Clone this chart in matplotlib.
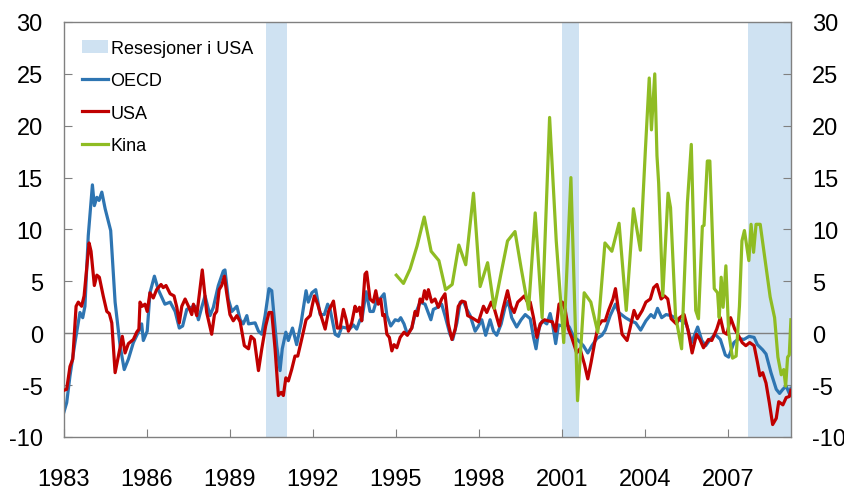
import numpy as np
import matplotlib
matplotlib.use("Agg")
import matplotlib.pyplot as plt
from matplotlib.patches import Patch
from matplotlib.lines import Line2D

plt.rcParams['font.family'] = ['Liberation Sans', 'DejaVu Sans']
plt.rcParams['axes.unicode_minus'] = False

# OECD (decimal year, value)
oecd_t = [1983.01, 1983.11, 1983.23, 1983.41, 1983.59, 1983.69, 1983.77, 1983.89, 1984.04, 1984.11,
          1984.20, 1984.28, 1984.38, 1984.50, 1984.70, 1984.86, 1985.04, 1985.19, 1985.34, 1985.52,
          1985.70, 1985.82, 1985.88, 1986.02, 1986.12, 1986.28, 1986.42, 1986.66, 1986.85, 1987.03,
          1987.18, 1987.30, 1987.45, 1987.69, 1987.75, 1987.87, 1987.99, 1988.11, 1988.29, 1988.41,
          1988.59, 1988.77, 1988.83, 1988.95, 1989.08, 1989.26, 1989.38, 1989.49, 1989.62, 1989.68,
          1989.92, 1990.04, 1990.16, 1990.28, 1990.42, 1990.52, 1990.70, 1990.82, 1990.90, 1991.03,
          1991.12, 1991.27, 1991.42, 1991.58, 1991.76, 1991.84, 1991.97, 1992.11, 1992.27, 1992.42,
          1992.54, 1992.63, 1992.81, 1992.93, 1993.05, 1993.23, 1993.33, 1993.47, 1993.59, 1993.71,
          1993.77, 1993.93, 1994.07, 1994.19, 1994.32, 1994.43, 1994.58, 1994.68, 1994.82, 1994.98,
          1995.10, 1995.18, 1995.30, 1995.42, 1995.58, 1995.70, 1995.88, 1996.06, 1996.27, 1996.36,
          1996.51, 1996.66, 1996.78, 1996.96, 1997.06, 1997.21, 1997.33, 1997.45, 1997.57, 1997.69,
          1997.87, 1997.99, 1998.11, 1998.25, 1998.41, 1998.53, 1998.65, 1998.81, 1998.95, 1999.07,
          1999.19, 1999.37, 1999.53, 1999.68, 1999.86, 1999.98, 2000.07, 2000.18, 2000.30, 2000.46,
          2000.58, 2000.66, 2000.78, 2000.88, 2001.02, 2001.15, 2001.27, 2001.42, 2001.60, 2001.78,
          2001.94, 2002.09, 2002.27, 2002.45, 2002.57, 2002.75, 2002.94, 2003.06, 2003.30, 2003.49,
          2003.67, 2003.85, 2004.04, 2004.22, 2004.34, 2004.46, 2004.61, 2004.77, 2004.95, 2005.14,
          2005.32, 2005.50, 2005.69, 2005.91, 2006.06, 2006.20, 2006.36, 2006.54, 2006.73, 2006.91,
          2007.03, 2007.22, 2007.40, 2007.58, 2007.77, 2007.95, 2008.07, 2008.26, 2008.38, 2008.56,
          2008.75, 2008.87, 2008.99, 2009.11, 2009.22, 2009.28]
oecd_v = [-7.6, -6.7, -4.1, -0.9, 2.0, 1.5, 2.6, 9.4, 14.3, 12.3,
          13.1, 12.8, 13.6, 12.0, 9.9, 3.0, -1.2, -3.5, -2.5, -0.9,
          0.1, 0.9, -0.7, 0.2, 3.9, 5.5, 4.2, 2.8, 3.0, 2.1,
          0.5, 0.7, 2.3, 2.6, 2.6, 1.3, 2.5, 3.6, 1.7, 2.5,
          4.6, 6.0, 6.1, 3.3, 2.1, 2.6, 1.3, 0.9, 1.7, 0.9,
          1.0, 0.2, -0.1, 1.7, 4.3, 4.1, -1.2, -3.6, -1.5, 0.1,
          -0.7, 0.5, -1.1, 1.0, 4.1, 3.0, 3.9, 4.2, 1.8, 1.8,
          2.8, 2.3, -0.1, -0.3, 0.6, 0.5, 0.4, 0.8, 0.4, 1.3,
          1.2, 4.0, 2.1, 2.1, 3.3, 3.3, 3.8, 1.7, 0.7, 1.3,
          1.2, 1.5, 0.9, -0.1, 0.5, 1.8, 3.0, 2.8, 1.3, 2.3,
          2.5, 2.8, 1.7, -0.1, -0.6, 1.0, 3.0, 3.0, 2.3, 1.7,
          0.2, 0.7, 1.3, -0.2, 1.3, 0.2, -0.2, 0.9, 2.5, 3.1,
          1.5, 0.6, 1.3, 1.8, 1.4, -0.4, -1.5, 0.5, 1.2, 0.9,
          1.9, 1.0, -1.0, 0.8, 0.7, 0.9, 0.6, -0.3, -0.7, -1.2,
          -1.9, -1.2, -0.5, -0.2, 0.3, 1.7, 2.8, 2.0, 1.5, 1.2,
          1.0, 0.3, 1.2, 1.8, 1.5, 2.4, 1.5, 1.8, 1.7, 1.4,
          1.2, 0.9, -0.9, 0.6, -0.7, -1.2, -0.6, -0.1, -0.6, -2.1,
          -2.3, -0.9, -0.5, -0.6, -0.3, -0.4, -1.1, -1.6, -2.0, -3.8,
          -5.4, -5.8, -5.4, -5.1, -5.8, -5.3]

# USA (decimal year, value)
usa_t = [1983.01, 1983.11, 1983.23, 1983.33, 1983.45, 1983.53, 1983.65, 1983.74, 1983.92, 1983.99,
         1984.11, 1984.20, 1984.29, 1984.43, 1984.56, 1984.65, 1984.74, 1984.86, 1984.98, 1985.12,
         1985.22, 1985.34, 1985.52, 1985.64, 1985.72, 1985.76, 1985.84, 1985.94, 1986.02, 1986.12,
         1986.24, 1986.36, 1986.52, 1986.60, 1986.70, 1986.85, 1986.99, 1987.09, 1987.18, 1987.27,
         1987.39, 1987.51, 1987.63, 1987.69, 1987.81, 1988.01, 1988.17, 1988.35, 1988.45, 1988.53,
         1988.62, 1988.71, 1988.81, 1988.89, 1989.01, 1989.13, 1989.26, 1989.38, 1989.53, 1989.68,
         1989.77, 1989.89, 1990.04, 1990.16, 1990.30, 1990.42, 1990.52, 1990.64, 1990.76, 1990.86,
         1990.94, 1991.03, 1991.12, 1991.24, 1991.36, 1991.46, 1991.60, 1991.76, 1991.91, 1991.97,
         1992.06, 1992.18, 1992.30, 1992.45, 1992.57, 1992.75, 1992.89, 1992.99, 1993.11, 1993.21,
         1993.29, 1993.41, 1993.53, 1993.59, 1993.69, 1993.77, 1993.89, 1993.95, 1994.07, 1994.19,
         1994.28, 1994.37, 1994.46, 1994.53, 1994.59, 1994.68, 1994.77, 1994.86, 1994.94, 1995.04,
         1995.16, 1995.30, 1995.42, 1995.58, 1995.70, 1995.78, 1995.88, 1995.96, 1996.04, 1996.12,
         1996.18, 1996.30, 1996.42, 1996.54, 1996.66, 1996.78, 1996.90, 1997.03, 1997.15, 1997.26,
         1997.39, 1997.51, 1997.60, 1997.75, 1997.99, 1998.17, 1998.29, 1998.45, 1998.57, 1998.74,
         1998.89, 1999.04, 1999.16, 1999.28, 1999.41, 1999.53, 1999.65, 1999.74, 1999.86, 1999.98,
         2000.10, 2000.22, 2000.37, 2000.50, 2000.66, 2000.78, 2000.90, 2001.02, 2001.12, 2001.24,
         2001.36, 2001.54, 2001.66, 2001.82, 2001.94, 2002.06, 2002.21, 2002.32, 2002.45, 2002.57,
         2002.69, 2002.85, 2002.94, 2003.06, 2003.18, 2003.36, 2003.46, 2003.61, 2003.73, 2003.91,
         2004.04, 2004.20, 2004.32, 2004.44, 2004.59, 2004.71, 2004.83, 2004.95, 2005.14, 2005.26,
         2005.42, 2005.57, 2005.71, 2005.87, 2005.99, 2006.12, 2006.30, 2006.42, 2006.60, 2006.73,
         2006.85, 2006.97, 2007.10, 2007.25, 2007.40, 2007.52, 2007.65, 2007.79, 2007.95, 2008.07,
         2008.16, 2008.26, 2008.38, 2008.50, 2008.62, 2008.75, 2008.84, 2008.99, 2009.11, 2009.22,
         2009.28]
usa_v = [-5.5, -5.4, -3.2, -2.5, 2.6, 3.0, 2.6, 3.6, 8.7, 7.9,
         4.6, 5.6, 5.4, 3.6, 2.1, 1.9, 1.0, -3.8, -2.2, -0.3,
         -1.9, -1.0, -0.6, 0.1, 0.4, 3.0, 2.6, 2.8, 2.1, 3.9,
         3.4, 4.2, 4.7, 4.4, 4.6, 3.8, 3.6, 2.5, 1.0, 2.6,
         3.3, 2.6, 1.8, 2.8, 1.7, 6.1, 2.0, -0.1, 1.8, 2.1,
         4.2, 4.6, 5.5, 3.9, 1.8, 1.2, 1.7, 1.1, -1.2, -1.5,
         -0.3, -0.6, -3.6, -1.5, 0.7, 2.0, 2.0, -1.5, -6.0, -5.7,
         -6.0, -4.3, -4.6, -3.5, -2.2, -2.2, -0.6, 1.3, 1.7, 2.5,
         3.6, 2.8, 1.7, 0.4, 2.1, 3.1, 0.5, 0.5, 2.3, 1.3,
         0.2, 1.0, 2.6, 2.1, 2.5, 1.2, 5.7, 5.9, 3.3, 3.0,
         4.1, 2.8, 3.3, 1.7, 1.8, -0.1, -0.4, -1.7, -1.1, -1.4,
         -0.4, 0.1, -0.2, 0.5, 2.1, 1.7, 3.3, 3.0, 4.1, 3.3,
         4.2, 3.0, 3.3, 2.5, 3.3, 3.8, 0.9, -0.6, 0.4, 2.6,
         3.1, 3.0, 1.7, 1.5, 1.1, 2.6, 2.0, 3.0, 2.3, 0.7,
         2.5, 4.1, 2.6, 2.0, 3.0, 3.3, 3.6, 3.1, 3.0, 1.5,
         -0.4, 0.9, 1.3, 1.2, 1.1, 0.2, 2.8, 3.0, 2.3, 0.4,
         -0.4, -1.9, -1.5, -3.0, -4.4, -2.8, -0.6, 0.7, 1.2, 1.2,
         2.2, 3.3, 4.3, 2.0, -0.1, -0.7, 0.4, 2.2, 1.4, 2.2,
         3.0, 3.3, 4.4, 4.7, 3.3, 3.6, 3.3, 1.4, 0.9, 1.5,
         1.8, 0.2, -1.9, -0.1, -0.6, -1.4, -0.6, -0.7, 0.4, 1.5,
         0.1, -0.1, 1.5, 0.4, -0.3, -0.9, -1.2, -0.9, -1.2, -2.8,
         -4.1, -3.8, -4.8, -6.7, -8.8, -8.2, -6.6, -6.9, -6.2, -6.1,
         -5.5]

# Kina (decimal year, value)
kina_t = [1995.02, 1995.28, 1995.52, 1995.77, 1996.03, 1996.28, 1996.56, 1996.80, 1997.04, 1997.28,
          1997.53, 1997.81, 1998.05, 1998.32, 1998.56, 1998.80, 1999.04, 1999.31, 1999.53, 1999.80,
          2000.04, 2000.29, 2000.56, 2000.80, 2001.07, 2001.33, 2001.57, 2001.81, 2002.05, 2002.30,
          2002.56, 2002.81, 2003.07, 2003.33, 2003.59, 2003.84, 2004.02, 2004.16, 2004.24, 2004.36,
          2004.44, 2004.50, 2004.65, 2004.84, 2004.93, 2005.11, 2005.33, 2005.54, 2005.68, 2005.84,
          2005.94, 2006.08, 2006.14, 2006.26, 2006.35, 2006.51, 2006.63, 2006.69, 2006.76, 2006.83,
          2006.93, 2007.03, 2007.17, 2007.30, 2007.42, 2007.51, 2007.60, 2007.76, 2007.84, 2007.93,
          2008.02, 2008.17, 2008.36, 2008.53, 2008.69, 2008.81, 2008.93, 2009.02, 2009.09, 2009.16,
          2009.22, 2009.28]
kina_v = [5.6, 4.8, 6.2, 8.4, 11.2, 7.9, 7.0, 4.2, 4.7, 8.5,
          6.6, 13.5, 4.5, 6.8, 2.4, 5.7, 8.9, 9.8, 6.3, 2.3,
          11.6, 1.5, 20.8, 8.9, -0.9, 15.0, -6.5, 3.9, 3.0, 0.1,
          8.7, 7.9, 10.6, 2.2, 12.0, 8.0, 17.6, 24.6, 19.6, 25.0,
          17.1, 14.5, 3.6, 13.5, 12.1, 1.7, -1.5, 12.6, 18.2, 2.2,
          1.4, 10.3, 10.4, 16.6, 16.6, 4.3, 3.9, 1.5, 5.4, 2.5,
          6.5, 0.1, -2.4, -2.2, 2.6, 8.9, 9.9, 7.0, 10.5, 7.8,
          10.5, 10.5, 6.8, 3.5, 1.5, -2.3, -4.0, -3.5, -5.1, -2.3,
          -2.1, 1.3]

# US recessions (start, end)
rec_start = [1990.32, 2001.00, 2007.73]
rec_end = [1991.06, 2001.64, 2009.28]

year_ticks = [1983, 1986, 1989, 1992, 1995, 1998, 2001, 2004, 2007]

c_oecd = '#2E75B2'
c_usa = '#C00000'
c_kina = '#8FBC23'
c_rec = '#CFE2F2'
c_axis = '#808080'

fig = plt.figure(figsize=(8.45, 4.89), dpi=100)
ax = fig.add_axes([0.0753, 0.1043, 0.8607, 0.8487])

for s, e in zip(rec_start, rec_end):
    ax.axvspan(s, e, color=c_rec, lw=0, zorder=0)
ax.axhline(0, color=c_axis, lw=1, zorder=1)

ax.plot(oecd_t, oecd_v, color=c_oecd, lw=2.3, zorder=2)
ax.plot(usa_t, usa_v, color=c_usa, lw=2.3, zorder=3)
ax.plot(kina_t, kina_v, color=c_kina, lw=2.3, zorder=4)

ax.set_xlim(1983, 2009.28)
ax.set_ylim(-10, 30)
ax.set_xticks(year_ticks)
ax.set_yticks(np.arange(-10, 31, 5))

for sp in ax.spines.values():
    sp.set_color(c_axis)
    sp.set_linewidth(1)

ax.tick_params(axis='x', direction='in', length=6, color=c_axis, labelsize=17, pad=22)
ax.tick_params(axis='y', direction='in', length=6, color=c_axis, labelsize=17, pad=15,
               left=True, right=True, labelleft=True, labelright=True)

handles = [Patch(facecolor=c_rec, edgecolor='none'),
           Line2D([], [], color=c_oecd, lw=2.3),
           Line2D([], [], color=c_usa, lw=2.3),
           Line2D([], [], color=c_kina, lw=2.3)]
labels = ['Resesjoner i USA', 'OECD', 'USA', 'Kina']
ax.legend(handles, labels, loc='upper left', bbox_to_anchor=(0.0, 1.0), frameon=False,
          fontsize=13, handlelength=1.45, handletextpad=0.15, labelspacing=0.85,
          borderaxespad=0.4, borderpad=0.6)

fig.savefig('out.png', dpi=100)
